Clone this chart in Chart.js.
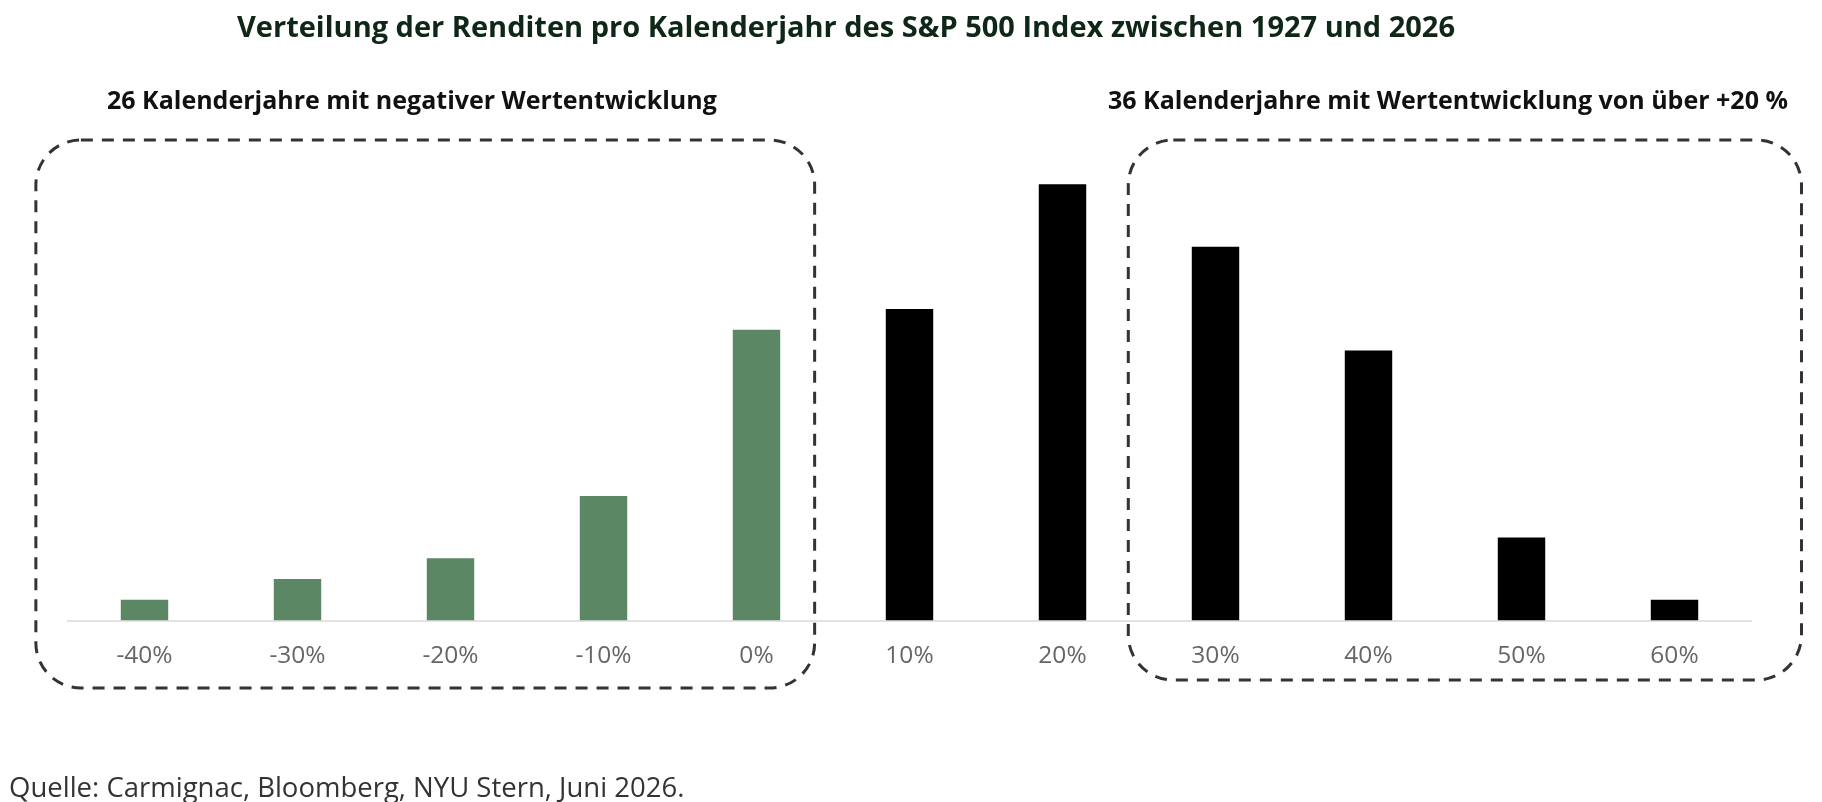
<!DOCTYPE html>
<html lang="de">
<head>
<meta charset="utf-8">
<title>Verteilung der Renditen S&amp;P 500</title>
<script src="https://cdn.jsdelivr.net/npm/chart.js@4.4.1/dist/chart.umd.min.js"></script>
<style>
    html, body { margin: 0; padding: 0; background: #ffffff; }
    #wrap { width: 1822px; height: 802px; position: relative; }
</style>
</head>
<body>
<div id="wrap"><canvas id="renditenChart"></canvas></div>
<script>
// Renditeklassen (Kalenderjahr) und Anzahl der Jahre je Klasse
const categories = ['-40%', '-30%', '-20%', '-10%', '0%', '10%', '20%', '30%', '40%', '50%', '60%'];
const yearCounts = [1, 2, 3, 6, 14, 15, 21, 18, 13, 4, 1];
const isNegative = [true, true, true, true, true, false, false, false, false, false, false];

const titleText = 'Verteilung der Renditen pro Kalenderjahr des S&P 500 Index zwischen 1927 und 2026';
const leftNote = '26 Kalenderjahre mit negativer Wertentwicklung';
const rightNote = '36 Kalenderjahre mit Wertentwicklung von über +20 %';
const sourceText = 'Quelle: Carmignac, Bloomberg, NYU Stern, Juni 2026.';

const GREEN = '#5c8765';
const BLACK = '#000000';

// gestrichelte Rahmen + Texte
const overlayPlugin = {
    id: 'overlay',
    afterDraw(chart) {
        const ctx = chart.ctx;
        const x = chart.scales.x;

        function dashedBox(x0, y0, x1, y1, r) {
            ctx.save();
            ctx.strokeStyle = '#333333';
            ctx.lineWidth = 3;
            ctx.setLineDash([12, 9]);
            ctx.beginPath();
            ctx.roundRect(x0, y0, x1 - x0, y1 - y0, r);
            ctx.stroke();
            ctx.restore();
        }

        dashedBox(x.getPixelForValue(-0.71), 140, x.getPixelForValue(4.38), 688, 45);
        dashedBox(x.getPixelForValue(6.43), 140, x.getPixelForValue(10.83), 680, 45);

        ctx.save();
        ctx.textBaseline = 'middle';
        ctx.fillStyle = '#0f2717';
        ctx.font = 'bold 29px "Open Sans"';
        ctx.textAlign = 'center';
        ctx.fillText(titleText, 846, 29);

        ctx.fillStyle = '#111111';
        ctx.font = 'bold 25px "Open Sans"';
        ctx.textAlign = 'left';
        ctx.fillText(leftNote, 107, 102);
        ctx.fillText(rightNote, 1108, 102);

        ctx.fillStyle = '#333333';
        ctx.font = '27.5px "Open Sans"';
        ctx.textBaseline = 'alphabetic';
        ctx.fillText(sourceText, 9, 797);
        ctx.restore();
    }
};

document.addEventListener('DOMContentLoaded', function() {
    const ctx = document.getElementById('renditenChart').getContext('2d');

    new Chart(ctx, {
        type: 'bar',
        data: {
            labels: categories,
            datasets: [{
                label: 'Anzahl Kalenderjahre',
                data: yearCounts,
                backgroundColor: isNegative.map(n => n ? GREEN : BLACK),
                borderWidth: 0,
                barPercentage: 0.31,
                categoryPercentage: 1
            }]
        },
        options: {
            responsive: true,
            maintainAspectRatio: false,
            animation: false,
            layout: {
                padding: { left: 68, right: 71, top: 122, bottom: 110 }
            },
            plugins: {
                legend: { display: false },
                tooltip: { enabled: false }
            },
            scales: {
                x: {
                    grid: { display: false, drawTicks: false },
                    border: { color: '#e3e3e3', width: 2 },
                    ticks: {
                        color: '#666666',
                        padding: 21,
                        font: { family: 'Open Sans', size: 24.5 }
                    }
                },
                y: {
                    display: false,
                    min: 0,
                    max: 24
                }
            }
        },
        plugins: [overlayPlugin]
    });
});
</script>
</body>
</html>
